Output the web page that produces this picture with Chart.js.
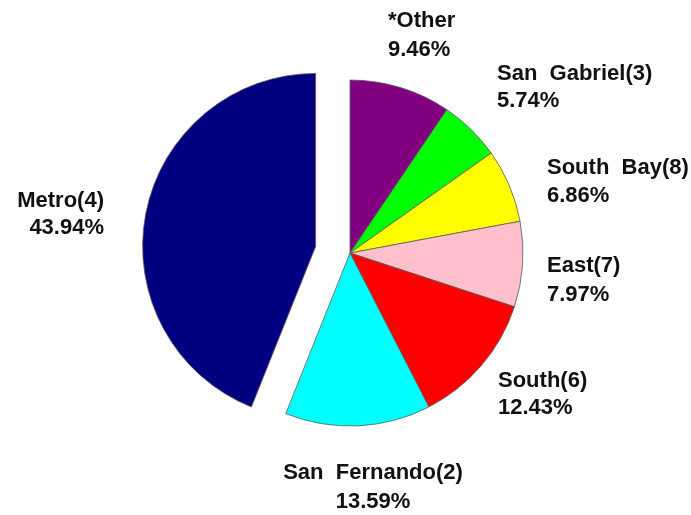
<!DOCTYPE html>
<html>
<head>
<meta charset="utf-8">
<title>Share by region</title>
<script src="https://cdn.jsdelivr.net/npm/chart.js@4/dist/chart.umd.min.js"></script>
<style>
  html, body { margin: 0; padding: 0; background: #fff; }
  #wrap { width: 691px; height: 515px; }
</style>
</head>
<body>
<div id="wrap"><canvas id="pieChart" width="691" height="515"></canvas></div>
<script>
// slices, clockwise from 12 o'clock
const regions = ['*Other', 'San  Gabriel(3)', 'South  Bay(8)', 'East(7)', 'South(6)', 'San  Fernando(2)', 'Metro(4)'];
const shares = [9.46, 5.74, 6.86, 7.97, 12.43, 13.59, 43.94];
const sliceColors = ['#800080', '#00ff00', '#ffff00', '#ffc0cb', '#ff0000', '#00ffff', '#000080'];
const exploded = [0, 0, 0, 0, 0, 0, 1];

// where each two-line label sits: x, align, baseline of line 1, baseline of line 2
const labelSpots = [
    [388, 'left', 27, 56],
    [497, 'left', 80, 107],
    [547, 'left', 174, 202],
    [547, 'left', 272, 301],
    [498, 'left', 387, 414],
    [373, 'center', 479, 508],
    [104, 'right', 207, 234]
];

const EXPLODE_PX = 35;

// push exploded slices out along their middle angle (pure translation, unlike chart.js "offset")
const explodePlugin = {
    id: 'explode',
    afterDatasetUpdate(chart, args) {
        const meta = chart.getDatasetMeta(args.index);
        meta.data.forEach((arc, i) => {
            if (!exploded[i]) return;
            const mid = (arc.startAngle + arc.endAngle) / 2;
            arc.x += Math.cos(mid) * EXPLODE_PX;
            arc.y += Math.sin(mid) * EXPLODE_PX;
        });
    }
};

const labelPlugin = {
    id: 'sliceLabels',
    afterDraw(chart) {
        const ctx = chart.ctx;
        ctx.save();
        ctx.font = 'bold 22px "Liberation Sans", Arial, sans-serif';
        ctx.fillStyle = '#111';
        ctx.textBaseline = 'alphabetic';
        regions.forEach((name, i) => {
            const [x, align, y1, y2] = labelSpots[i];
            ctx.textAlign = align;
            ctx.fillText(name, x, y1);
            ctx.fillText(shares[i].toFixed(2) + '%', x, y2);
        });
        ctx.restore();
    }
};

const ctx = document.getElementById('pieChart').getContext('2d');
window.myChart = new Chart(ctx, {
    type: 'pie',
    data: {
        labels: regions,
        datasets: [{
            data: shares,
            backgroundColor: sliceColors,
            borderColor: '#5a5a5a',
            borderWidth: 0.8
        }]
    },
    options: {
        responsive: false,
        animation: false,
        radius: 173,
        layout: { padding: { left: 9, right: 0, top: 0, bottom: 9 } },
        plugins: {
            legend: { display: false },
            tooltip: { enabled: false }
        }
    },
    plugins: [explodePlugin, labelPlugin]
});
</script>
</body>
</html>
